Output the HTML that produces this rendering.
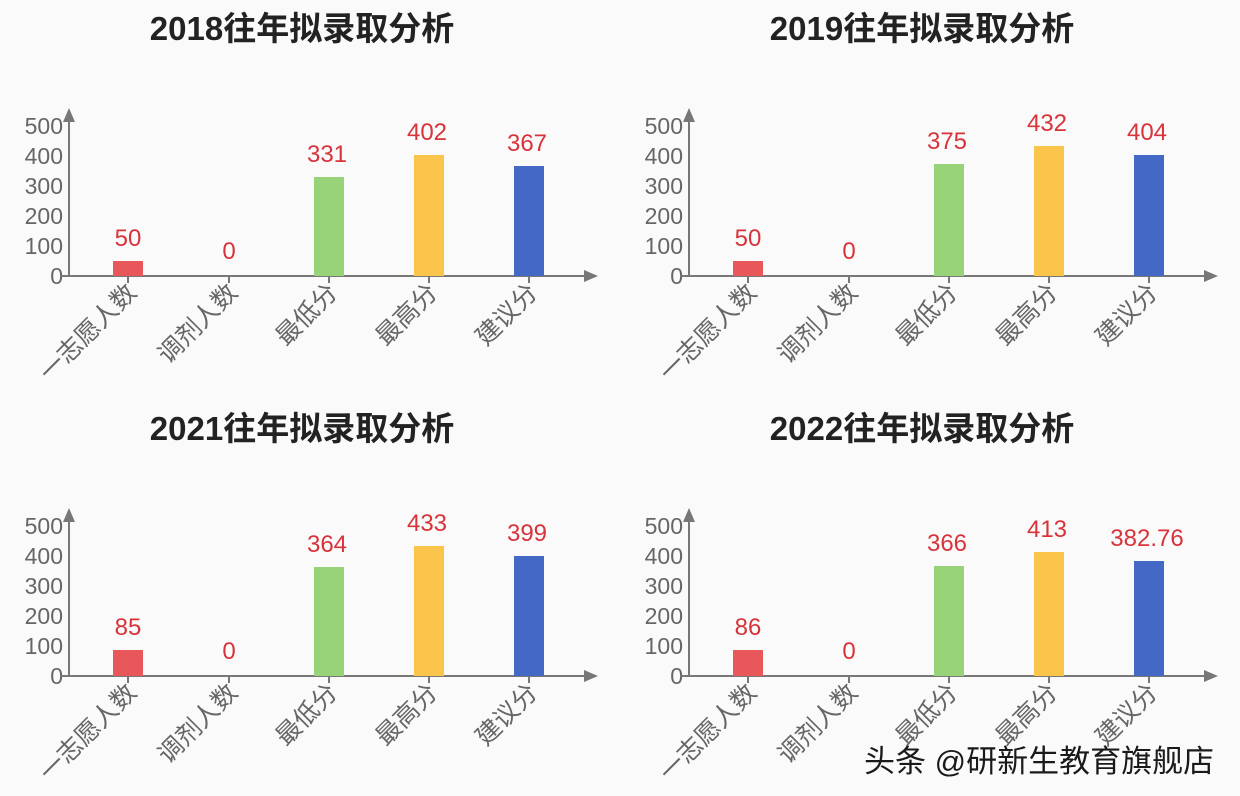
<!DOCTYPE html>
<html><head><meta charset="utf-8"><style>
html,body{margin:0;padding:0;background:#fafafa;}
svg{display:block;font-family:"Liberation Sans","Noto Sans CJK SC",sans-serif;}
.t{font-size:33px;font-weight:bold;fill:#222;text-anchor:middle}
.yl{font-size:23px;fill:#666;text-anchor:end}
.cl{font-size:25px;fill:#666;text-anchor:end}
.vl{font-size:24px;fill:#d8333a;text-anchor:middle}
.ax{stroke:#777;stroke-width:2;fill:none}
</style></head><body>
<svg width="1240" height="796" viewBox="0 0 1240 796">
<defs>
<g id="frame">
<text class="yl" x="63" y="284">0</text>
<text class="yl" x="63" y="254">100</text>
<text class="yl" x="63" y="224">200</text>
<text class="yl" x="63" y="194">300</text>
<text class="yl" x="63" y="164">400</text>
<text class="yl" x="63" y="134">500</text>
<line class="ax" x1="69" y1="277" x2="69" y2="118"/>
<polygon points="69,108 63,122 75,122" fill="#777"/>
<line class="ax" x1="60" y1="276" x2="588" y2="276"/>
<polygon points="598,276 584,270 584,282" fill="#777"/>
<line class="ax" x1="128" y1="276" x2="128" y2="283"/>
<line class="ax" x1="229" y1="276" x2="229" y2="283"/>
<line class="ax" x1="329" y1="276" x2="329" y2="283"/>
<line class="ax" x1="429" y1="276" x2="429" y2="283"/>
<line class="ax" x1="529" y1="276" x2="529" y2="283"/>
<text class="cl" transform="translate(138,294) rotate(-45)">一志愿人数</text>
<text class="cl" transform="translate(239,294) rotate(-45)">调剂人数</text>
<text class="cl" transform="translate(339,294) rotate(-45)">最低分</text>
<text class="cl" transform="translate(439,294) rotate(-45)">最高分</text>
<text class="cl" transform="translate(539,294) rotate(-45)">建议分</text>
</g>
</defs>
<text class="t" x="302" y="40">2018往年拟录取分析</text>
<text class="t" x="922" y="40">2019往年拟录取分析</text>
<text class="t" x="302" y="440">2021往年拟录取分析</text>
<text class="t" x="922" y="440">2022往年拟录取分析</text>

<g>
<use href="#frame"/>
<rect x="113" y="261" width="30" height="15" fill="#e8575a"/>
<rect x="314" y="177" width="30" height="99" fill="#98d37a"/>
<rect x="414" y="155" width="30" height="121" fill="#fbc54c"/>
<rect x="514" y="166" width="30" height="110" fill="#4468c6"/>
<text class="vl" x="128" y="246">50</text>
<text class="vl" x="229" y="259">0</text>
<text class="vl" x="327" y="162">331</text>
<text class="vl" x="427" y="140">402</text>
<text class="vl" x="527" y="151">367</text>
</g>
<g transform="translate(620,0)">
<use href="#frame"/>
<rect x="113" y="261" width="30" height="15" fill="#e8575a"/>
<rect x="314" y="164" width="30" height="112" fill="#98d37a"/>
<rect x="414" y="146" width="30" height="130" fill="#fbc54c"/>
<rect x="514" y="155" width="30" height="121" fill="#4468c6"/>
<text class="vl" x="128" y="246">50</text>
<text class="vl" x="229" y="259">0</text>
<text class="vl" x="327" y="149">375</text>
<text class="vl" x="427" y="131">432</text>
<text class="vl" x="527" y="140">404</text>
</g>
<g transform="translate(0,400)">
<use href="#frame"/>
<rect x="113" y="250" width="30" height="26" fill="#e8575a"/>
<rect x="314" y="167" width="30" height="109" fill="#98d37a"/>
<rect x="414" y="146" width="30" height="130" fill="#fbc54c"/>
<rect x="514" y="156" width="30" height="120" fill="#4468c6"/>
<text class="vl" x="128" y="235">85</text>
<text class="vl" x="229" y="259">0</text>
<text class="vl" x="327" y="152">364</text>
<text class="vl" x="427" y="131">433</text>
<text class="vl" x="527" y="141">399</text>
</g>
<g transform="translate(620,400)">
<use href="#frame"/>
<rect x="113" y="250" width="30" height="26" fill="#e8575a"/>
<rect x="314" y="166" width="30" height="110" fill="#98d37a"/>
<rect x="414" y="152" width="30" height="124" fill="#fbc54c"/>
<rect x="514" y="161" width="30" height="115" fill="#4468c6"/>
<text class="vl" x="128" y="235">86</text>
<text class="vl" x="229" y="259">0</text>
<text class="vl" x="327" y="151">366</text>
<text class="vl" x="427" y="137">413</text>
<text class="vl" x="527" y="146">382.76</text>
</g>
<text x="864" y="772" style="font-size:31px;fill:#1a1a1a">头条 @研新生教育旗舰店</text>
</svg>
</body></html>
